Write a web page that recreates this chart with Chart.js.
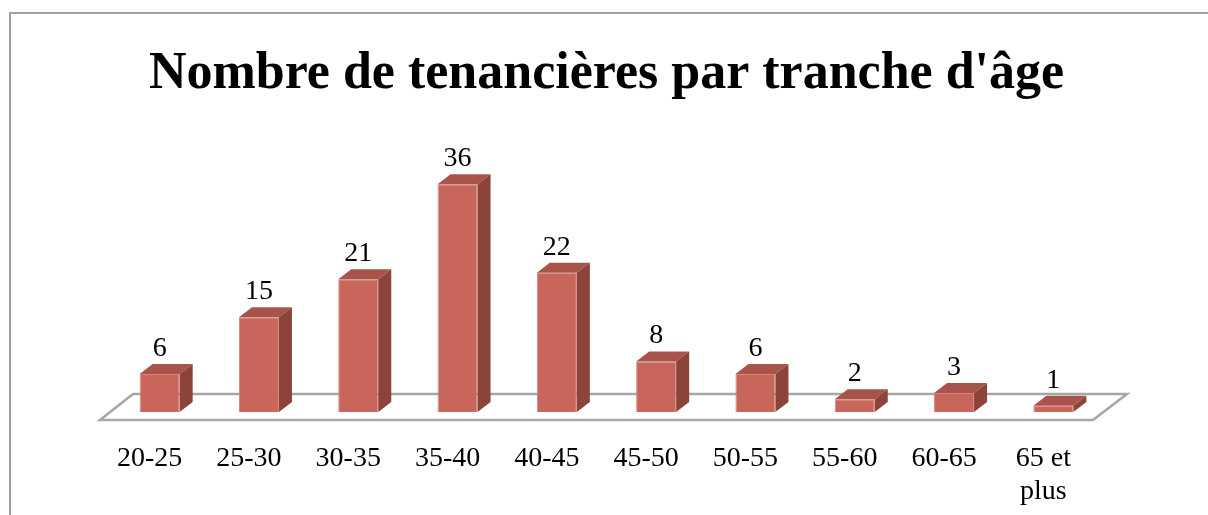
<!DOCTYPE html>
<html>
<head>
<meta charset="utf-8">
<script src="https://cdn.jsdelivr.net/npm/chart.js@4/dist/chart.umd.min.js"></script>
<style>
  html, body { margin: 0; padding: 0; background: #fff; }
  #wrap { width: 1208px; height: 515px; }
</style>
</head>
<body>
<div id="wrap"><canvas id="ageChart"></canvas></div>
<script>
  // data
  const AGE_GROUPS = ['20-25', '25-30', '30-35', '35-40', '40-45', '45-50', '50-55', '55-60', '60-65', ['65 et', 'plus']];
  const COUNTS = [6, 15, 21, 36, 22, 8, 6, 2, 3, 1];
  const TITLE = "Nombre de tenancières par tranche d'âge";

  const COLORS = {
    front: '#C9665B',
    top: '#A9544A',
    side: '#8C433A',
    floor: '#A6A6A6',
    frame: '#A0A0A0',
  };
  const DEPTH = { dx: 13, dy: 10 };

  // gray frame around the chart
  const framePlugin = {
    id: 'frame',
    beforeDraw(chart) {
      const ctx = chart.ctx;
      ctx.save();
      ctx.strokeStyle = COLORS.frame;
      ctx.lineWidth = 2;
      ctx.strokeRect(10, 13, 1400, 700);
      ctx.restore();
    },
  };

  // floor of the fake 3D plot
  const floorPlugin = {
    id: 'floor',
    beforeDatasetsDraw(chart) {
      const { ctx, chartArea } = chart;
      const front = chartArea.bottom + 8;
      const back = chartArea.bottom - 18;
      ctx.save();
      ctx.strokeStyle = COLORS.floor;
      ctx.lineWidth = 2.5;
      ctx.beginPath();
      ctx.moveTo(chartArea.left - 10, front);
      ctx.lineTo(chartArea.right - 10, front);
      ctx.lineTo(chartArea.right + 24, back);
      ctx.lineTo(chartArea.left + 23, back);
      ctx.closePath();
      ctx.stroke();
      ctx.restore();
    },
  };

  // top and side faces + value labels on each bar
  const boxPlugin = {
    id: 'box3d',
    afterDatasetsDraw(chart) {
      const ctx = chart.ctx;
      const meta = chart.getDatasetMeta(0);
      ctx.save();
      meta.data.forEach((bar, i) => {
        const p = bar.getProps(['x', 'y', 'base', 'width'], true);
        const l = p.x - p.width / 2;
        const r = p.x + p.width / 2;
        const t = p.y;
        const b = p.base;

        ctx.fillStyle = COLORS.top;
        ctx.beginPath();
        ctx.moveTo(l, t);
        ctx.lineTo(l + DEPTH.dx, t - DEPTH.dy);
        ctx.lineTo(r + DEPTH.dx, t - DEPTH.dy);
        ctx.lineTo(r, t);
        ctx.closePath();
        ctx.fill();

        ctx.fillStyle = COLORS.side;
        ctx.beginPath();
        ctx.moveTo(r, t);
        ctx.lineTo(r + DEPTH.dx, t - DEPTH.dy);
        ctx.lineTo(r + DEPTH.dx, b - DEPTH.dy);
        ctx.lineTo(r, b);
        ctx.closePath();
        ctx.fill();

        ctx.fillStyle = '#000';
        ctx.font = '28px "Liberation Serif", serif';
        ctx.textAlign = 'center';
        ctx.textBaseline = 'alphabetic';
        ctx.fillText(String(COUNTS[i]), p.x, t - DEPTH.dy - 8);
      });
      ctx.restore();
    },
  };

  new Chart(document.getElementById('ageChart'), {
    type: 'bar',
    data: {
      labels: AGE_GROUPS,
      datasets: [{
        data: COUNTS,
        backgroundColor: COLORS.front,
        borderColor: '#D7857B',
        borderWidth: 1,
        borderSkipped: 'bottom',
        categoryPercentage: 1,
        barPercentage: 0.403,
      }],
    },
    options: {
      responsive: true,
      maintainAspectRatio: false,
      animation: false,
      layout: { padding: { left: 110, right: 105, top: 0, bottom: 0 } },
      plugins: {
        legend: { display: false },
        tooltip: { enabled: false },
        title: {
          display: true,
          text: TITLE,
          color: '#000',
          font: { family: '"Liberation Serif", serif', size: 52, weight: 'bold', lineHeight: 1.2 },
          padding: { top: 43, bottom: 53.6 },
        },
      },
      scales: {
        x: {
          grid: { display: false },
          border: { display: false },
          ticks: {
            color: '#000',
            font: { family: '"Liberation Serif", serif', size: 28, lineHeight: 1.18 },
            labelOffset: -10,
            padding: 22,
            autoSkip: false,
            maxRotation: 0,
          },
          afterFit(scale) { scale.height = 103; },
        },
        y: {
          display: false,
          min: 0,
          max: 40,
        },
      },
    },
    plugins: [framePlugin, floorPlugin, boxPlugin],
  });
</script>
</body>
</html>
